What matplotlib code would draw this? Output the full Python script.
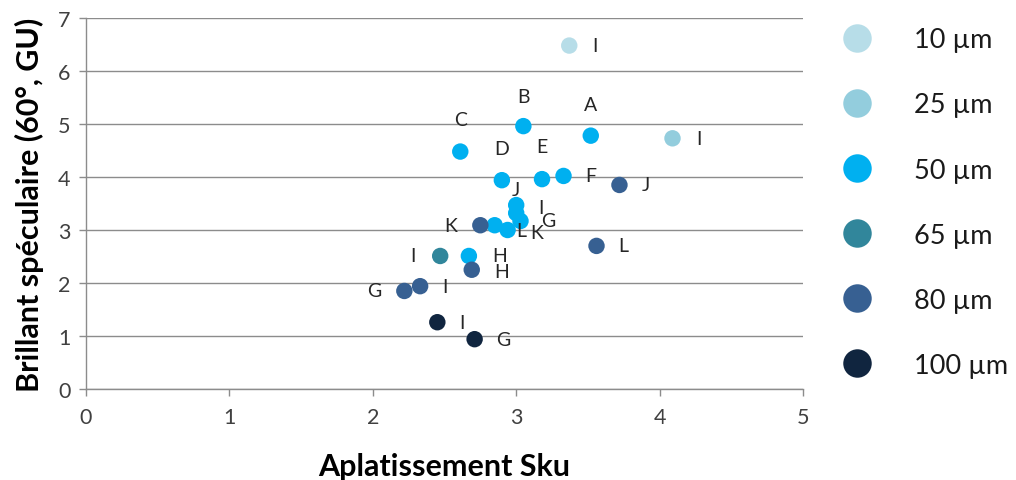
import matplotlib
matplotlib.use("Agg")
import matplotlib.pyplot as plt
from matplotlib.lines import Line2D

plt.rcParams['font.family'] = ['Lato', 'DejaVu Sans']

# ---- data ----
series_names = ["10 µm", "25 µm", "50 µm", "65 µm", "80 µm", "100 µm"]
colors = ["#B7DDE8", "#93CDDD", "#00B0F0", "#31869B", "#376092", "#10253F"]

x_10 = [3.37]
y_10 = [6.48]
lab_10 = ["I"]

x_25 = [4.09]
y_25 = [4.73]
lab_25 = ["I"]

x_50 = [3.52, 3.05, 2.61, 2.90, 3.18, 3.33, 3.03, 2.67, 3.00, 3.00, 2.94, 2.85]
y_50 = [4.78, 4.96, 4.48, 3.94, 3.96, 4.02, 3.17, 2.51, 3.32, 3.47, 3.00, 3.09]
lab_50 = ["A", "B", "C", "D", "E", "F", "G", "H", "I", "J", "K", "L"]

x_65 = [2.47]
y_65 = [2.51]
lab_65 = ["I"]

x_80 = [2.22, 2.69, 2.33, 3.72, 2.75, 3.56]
y_80 = [1.85, 2.25, 1.94, 3.85, 3.09, 2.70]
lab_80 = ["G", "H", "I", "J", "K", "L"]

x_100 = [2.71, 2.45]
y_100 = [0.94, 1.26]
lab_100 = ["G", "I"]

xs = [x_10, x_25, x_50, x_65, x_80, x_100]
ys = [y_10, y_25, y_50, y_65, y_80, y_100]
labs = [lab_10, lab_25, lab_50, lab_65, lab_80, lab_100]

# label offsets (pixels, right / down) -- styling only
R = (26, 0)
offsets = [
    [R],
    [R],
    [(0, -31), (0, -30), (0, -32), (0, -32), (0, -33), (27, 0), (28, 0),
     (31, 0), (25, -6), (0, -16), (29, 3), (27, 5)],
    [(-27, 0)],
    [(-30, 0), (30, 2), (25, 0), (26, 0), (-30, 0), (27, 0)],
    [(29, 0), (25, 0)],
]

fig = plt.figure(figsize=(10.16, 4.81), dpi=100)
ax = fig.add_axes([86 / 1016, 1 - 390 / 481, (803 - 86) / 1016, (390 - 19) / 481])

px2pt = 72 / 100
for xv, yv, lb, off, c in zip(xs, ys, labs, offsets, colors):
    ax.scatter(xv, yv, s=140, color=c, edgecolors='none', zorder=3)
    for xi, yi, t, (dx, dy) in zip(xv, yv, lb, off):
        ax.annotate(t, (xi, yi), xytext=(dx * px2pt, -dy * px2pt),
                    textcoords='offset points', ha='center', va='center',
                    fontsize=14, color='#262626', zorder=4)

ax.set_xlim(0, 5)
ax.set_ylim(0, 7)
ax.set_xticks(range(0, 6))
ax.set_yticks(range(0, 8))
ax.yaxis.grid(True, color='#8C8C8C', linewidth=1.0)
ax.set_axisbelow(True)
for s in ['top', 'right']:
    ax.spines[s].set_visible(False)
for s in ['left', 'bottom']:
    ax.spines[s].set_color('#8C8C8C')
    ax.spines[s].set_linewidth(1.0)
ax.tick_params(axis='both', colors='#8C8C8C', length=5, width=1.0,
               labelsize=15.5, labelcolor='#404040')
ax.tick_params(axis='x', pad=8)
ax.tick_params(axis='y', pad=6)

ax.set_xlabel("Aplatissement Sku", fontsize=22, fontweight='bold',
              color='#000000', labelpad=18)
ax.set_ylabel("Brillant spéculaire (60°, GU)", fontsize=22, fontweight='bold',
              color='#000000', labelpad=10)

handles = [Line2D([], [], linestyle='none', marker='o', markersize=20.5,
                  markerfacecolor=c, markeredgecolor='none') for c in colors]
fig.legend(handles, series_names, loc='upper left',
           bbox_to_anchor=(816 / 1016, 1 - 4 / 481), frameon=False,
           fontsize=19.5, labelspacing=1.48, handletextpad=1.45,
           handlelength=1.25, labelcolor='#1a1a1a')

fig.savefig("out.png", dpi=100)
